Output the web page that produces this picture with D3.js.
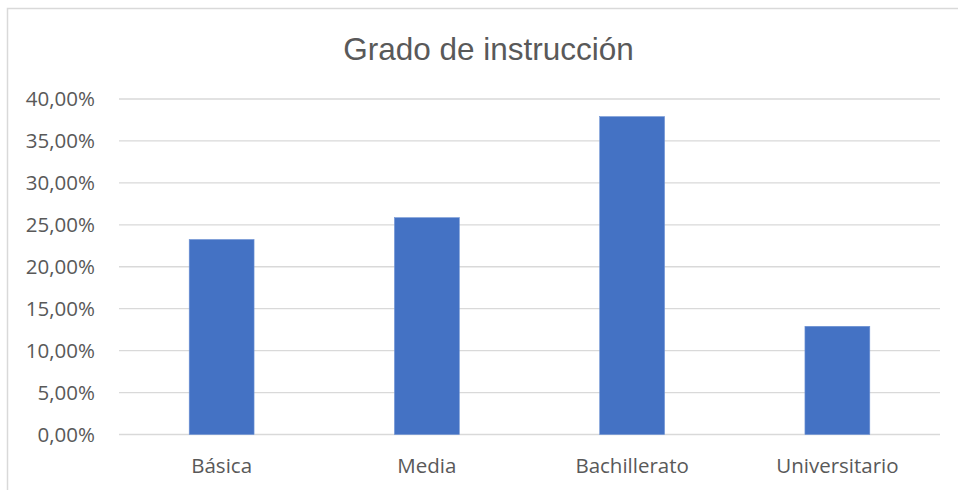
<!DOCTYPE html>
<html>
<head>
<meta charset="utf-8">
<script src="https://cdn.jsdelivr.net/npm/d3@7"></script>
<style>
  body { margin: 0; background: #fff; }
  svg { display: block; }
</style>
</head>
<body>
<div class="chart"></div>
<script>
// chart data
let categories = ["Básica", "Media", "Bachillerato", "Universitario"]
let values = [0.2325, 0.2585, 0.379, 0.129]
let yTicks = [0, 0.05, 0.10, 0.15, 0.20, 0.25, 0.30, 0.35, 0.40]
let title = "Grado de instrucción"

let w = 958
let h = 490
let margin = { top: 99, right: 18, bottom: 55.5, left: 119 }

let svg = d3.select(".chart")
            .append("svg")
            .attr("width", w)
            .attr("height", h)

// outer chart frame (cropped on right and bottom)
svg.append("rect")
   .attr("x", 7.5)
   .attr("y", 8.5)
   .attr("width", 1000)
   .attr("height", 1000)
   .attr("fill", "none")
   .attr("stroke", "#d9d9d9")
   .attr("stroke-width", 1.5)

let x = d3.scaleBand()
  .domain(categories)
  .range([margin.left, w - margin.right])
  .paddingInner(0.684)
  .paddingOuter(0.342)

let y = d3.scaleLinear()
  .domain([0, 0.40])
  .range([h - margin.bottom, margin.top])

let pct = d => d3.format(".2f")(d * 100).replace(".", ",") + "%"

// gridlines
svg.append("g")
   .selectAll("line")
   .data(yTicks)
   .enter()
   .append("line")
   .attr("x1", margin.left)
   .attr("x2", w - margin.right)
   .attr("y1", d => y(d))
   .attr("y2", d => y(d))
   .attr("stroke", "#d9d9d9")
   .attr("stroke-width", 1.3)

// y axis labels
let yAxis = d3.axisLeft(y).tickValues(yTicks).tickFormat(pct).tickSize(0).tickPadding(24)
let gy = svg.append("g")
   .attr("transform", "translate(" + margin.left + ",0)")
   .call(yAxis)
gy.select(".domain").remove()
gy.selectAll("text")
  .attr("font-family", "'Open Sans', sans-serif")
  .attr("font-size", 20.5)
  .attr("fill", "#595959")
  .attr("dy", "0.34em")

// bars
svg.append("g")
   .selectAll("rect")
   .data(values)
   .enter()
   .append("rect")
   .attr("x", (d, i) => x(categories[i]))
   .attr("y", d => y(d))
   .attr("width", x.bandwidth())
   .attr("height", d => y(0) - y(d))
   .attr("fill", "#4472c4")
   .attr("stroke", "#6f93d4")
   .attr("stroke-width", 0.6)

// x axis labels
let xAxis = d3.axisBottom(x).tickSize(0).tickPadding(24)
let gx = svg.append("g")
   .attr("transform", "translate(0," + y(0) + ")")
   .call(xAxis)
gx.select(".domain").remove()
gx.selectAll("text")
  .attr("font-family", "'Open Sans', sans-serif")
  .attr("font-size", 20.5)
  .attr("fill", "#595959")

// title
svg.append("text")
   .attr("x", 488.5)
   .attr("y", 60)
   .attr("text-anchor", "middle")
   .attr("font-family", "'Liberation Sans', Arial, sans-serif")
   .attr("font-size", 31.5)
   .attr("fill", "#595959")
   .text(title)
</script>
</body>
</html>
